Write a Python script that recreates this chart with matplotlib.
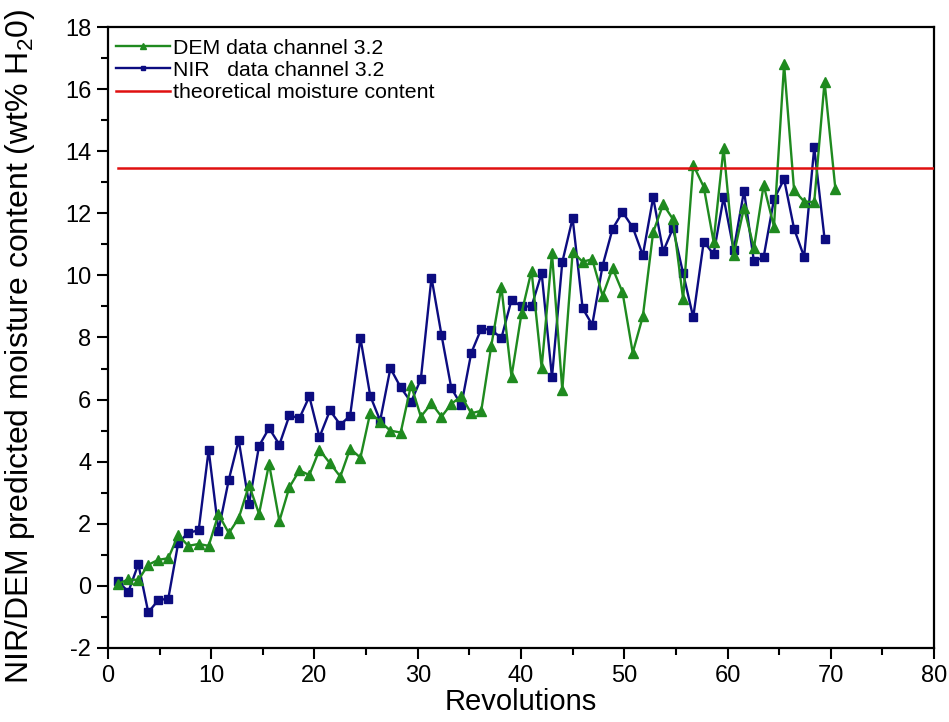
import matplotlib

matplotlib.use("Agg")
import matplotlib.pyplot as plt
from matplotlib.ticker import MultipleLocator

plt.rcParams["font.family"] = ["Liberation Sans", "DejaVu Sans"]
plt.rcParams["mathtext.fontset"] = "custom"
plt.rcParams["mathtext.rm"] = "Liberation Sans"
plt.rcParams["axes.unicode_minus"] = False

# revolution count at each sample (both channels share the first 71)
revs = [
    0.94, 1.97, 2.94, 3.9, 4.87, 5.84, 6.8, 7.77, 8.78, 9.75,
    10.7, 11.7, 12.66, 13.66, 14.63, 15.6, 16.6, 17.57, 18.54, 19.5,
    20.48, 21.5, 22.5, 23.45, 24.45, 25.4, 26.36, 27.35, 28.35, 29.35,
    30.3, 31.33, 32.3, 33.25, 34.22, 35.18, 36.15, 37.12, 38.1, 39.08,
    40.05, 41.02, 42.0, 43.0, 44.0, 45.0, 45.97, 46.9, 47.9, 48.87,
    49.83, 50.82, 51.8, 52.8, 53.77, 54.72, 55.7, 56.68, 57.7, 58.65,
    59.62, 60.6, 61.6, 62.56, 63.5, 64.5, 65.48, 66.45, 67.42, 68.4,
    69.4, 70.45,
]

dem_moisture = [
    0.06, 0.21, 0.19, 0.68, 0.84, 0.89, 1.64, 1.29, 1.35, 1.29,
    2.31, 1.70, 2.18, 3.25, 2.32, 3.93, 2.09, 3.18, 3.72, 3.57,
    4.38, 3.95, 3.52, 4.42, 4.13, 5.58, 5.29, 5.00, 4.94, 6.47,
    5.45, 5.88, 5.45, 5.86, 6.11, 5.56, 5.64, 7.73, 9.63, 6.74,
    8.78, 10.15, 7.03, 10.71, 6.31, 10.75, 10.44, 10.52, 9.34, 10.23,
    9.46, 7.51, 8.68, 11.39, 12.29, 11.81, 9.24, 13.56, 12.85, 11.09,
    14.1, 10.66, 12.18, 10.88, 12.91, 11.57, 16.8, 12.74, 12.38, 12.36,
    16.24, 12.78,
]

nir_moisture = [
    0.16, -0.19, 0.70, -0.85, -0.46, -0.41, 1.38, 1.71, 1.79, 4.38,
    1.78, 3.42, 4.69, 2.64, 4.51, 5.08, 4.55, 5.49, 5.40, 6.10,
    4.79, 5.65, 5.19, 5.48, 7.98, 6.12, 5.32, 7.01, 6.39, 5.92,
    6.66, 9.93, 8.08, 6.37, 5.82, 7.50, 8.28, 8.25, 7.98, 9.21,
    9.0, 9.0, 10.07, 6.72, 10.43, 11.84, 8.94, 8.41, 10.31, 11.5,
    12.04, 11.55, 10.65, 12.51, 10.77, 11.52, 10.07, 8.65, 11.09, 10.68,
    12.51, 10.82, 12.72, 10.45, 10.59, 12.45, 13.1, 11.5, 10.6, 14.12,
    11.18,
]

theory_x = [0.94, 80]
theory_moisture = 13.45

GREEN = "#1f8a1f"
NAVY = "#0c0c80"
RED = "#e01010"

fig = plt.figure(figsize=(9.49, 7.22), dpi=100)
ax = fig.add_axes([0.1138, 0.1025, 0.8704, 0.8601])

ax.plot(revs[:len(nir_moisture)], nir_moisture, color=NAVY, lw=1.7,
        marker="s", ms=6, label="NIR   data channel 3.2", zorder=2)
ax.plot(revs, dem_moisture, color=GREEN, lw=1.7,
        marker="^", ms=7.5, label="DEM data channel 3.2", zorder=3)
ax.plot(theory_x, [theory_moisture] * 2, color=RED, lw=1.8,
        label="theoretical moisture content", zorder=4)

ax.set_xlim(0, 80)
ax.set_ylim(-2, 18)
ax.xaxis.set_major_locator(MultipleLocator(10))
ax.xaxis.set_minor_locator(MultipleLocator(5))
ax.yaxis.set_major_locator(MultipleLocator(2))
ax.yaxis.set_minor_locator(MultipleLocator(1))
ax.tick_params(which="both", direction="out", width=1.5, top=False, right=False)
ax.tick_params(which="major", length=8, labelsize=17, pad=4)
ax.tick_params(which="minor", length=5)
for sp in ax.spines.values():
    sp.set_linewidth(1.6)

ax.set_xlabel("Revolutions", fontsize=21, labelpad=1)
ax.set_ylabel(r"NIR/DEM predicted moisture content (wt% H$_2$0)", fontsize=23)
ax.yaxis.set_label_coords(-0.086, 0.485)

h, l = ax.get_legend_handles_labels()
order = [1, 0, 2]
ax.legend([h[i] for i in order], [l[i] for i in order], loc="upper left",
          bbox_to_anchor=(0, 0.995), borderaxespad=0, borderpad=0.4,
          frameon=False, fontsize=15.3, handlelength=2.5, handletextpad=0.15,
          labelspacing=0.15, markerscale=0.6)

fig.savefig("out.png", dpi=100)
